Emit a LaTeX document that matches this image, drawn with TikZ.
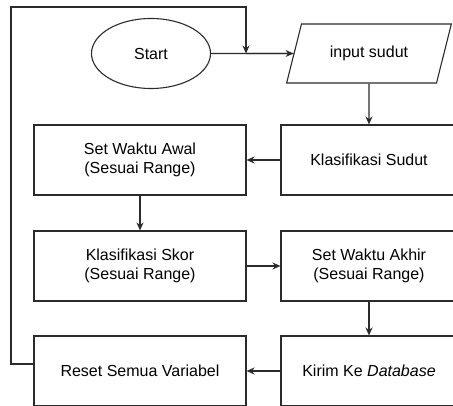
\documentclass[tikz,border=0pt]{standalone}
\usepackage{fontspec}
\setmainfont{Liberation Sans}
\usetikzlibrary{shapes.geometric,arrows.meta}
\definecolor{ln}{HTML}{2B2B2B}
\begin{document}
\begin{tikzpicture}[x=1pt,y=-1pt,
  every node/.style={font=\fontsize{16}{19.5}\selectfont, text=black, align=center},
  boxl/.style={draw=ln, line width=1.1pt, rectangle, minimum width=212pt, minimum height=70pt, inner sep=0pt},
  boxr/.style={draw=ln, line width=1.1pt, rectangle, minimum width=176pt, minimum height=70pt, inner sep=0pt},
  conn/.style={draw=ln, line width=1.1pt, -{Stealth[length=8pt,width=7pt]}},
  plain/.style={draw=ln, line width=1.1pt}]
\useasboundingbox (0,0) rectangle (453,406);
\clip (0,0) rectangle (453,406);
\node[draw=ln, line width=1.1pt, ellipse, minimum width=119pt, minimum height=70pt, inner sep=0pt] (start) at (151,53.5) {Start};
\node[draw=ln, line width=1.1pt, trapezium, trapezium left angle=60, trapezium right angle=120, trapezium stretches=true, minimum width=166pt, minimum height=59pt, inner sep=0pt] (inp) at (369,53.5) {input sudut};
\node[boxr] (ksudut) at (369,160) {Klasifikasi Sudut};
\node[boxl] (awal) at (140,160) {Set Waktu Awal\\(Sesuai Range)};
\node[boxl] (skor) at (140,266) {Klasifikasi Skor\\(Sesuai Range)};
\node[boxr] (akhir) at (369,266) {Set Waktu Akhir\\(Sesuai Range)};
\node[boxr] (kirim) at (369,371) {Kirim Ke \textit{Database}};
\node[boxl] (reset) at (140,371) {Reset Semua Variabel};
\coordinate (j) at (246,53.5);
\coordinate (r) at (34,364);
\draw[plain] (start.east) -- (inp.west);
\draw[conn] (j) -- (inp.west);
\draw[conn] (r) -- (11,364) -- (11,7) -- (246,7) -- (j);
\draw[conn] (inp.south) -- (ksudut.north);
\draw[conn] (ksudut.west) -- (awal.east);
\draw[conn] (awal.south) -- (skor.north);
\draw[conn] (skor.east) -- (akhir.west);
\draw[conn] (akhir.south) -- (kirim.north);
\draw[conn] (kirim.west) -- (reset.east);
\end{tikzpicture}
\end{document}
